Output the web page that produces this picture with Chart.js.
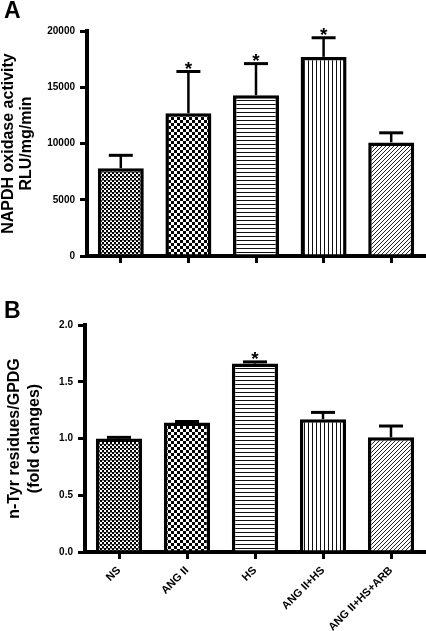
<!DOCTYPE html>
<html>
<head>
<meta charset="utf-8">
<script src="https://cdn.jsdelivr.net/npm/chart.js@4/dist/chart.umd.min.js"></script>
<style>
  body { margin: 0; background: #fff; width: 426px; height: 631px; position: relative; overflow: hidden; font-family: 'Liberation Sans', Arial, sans-serif; }
  .panel { position: absolute; left: 0; width: 426px; }
  .letter { position: absolute; left: 4px; font-size: 23px; font-weight: bold; color: #000; z-index: 2; }
</style>
</head>
<body>
<div class="letter" style="top:-3px;">A</div>
<div class="panel" style="top:0; height:300px;"><canvas id="chartA" width="426" height="300"></canvas></div>
<div class="letter" style="top:297px;">B</div>
<div class="panel" style="top:300px; height:331px;"><canvas id="chartB" width="426" height="331"></canvas></div>
<script>
// groups
const categories = ['NS', 'ANG II', 'HS', 'ANG II+HS', 'ANG II+HS+ARB'];

// panel A: NADPH oxidase activity (RLU/mg/min)
const nadphMean = [7800, 12700, 14300, 17700, 10100];
const nadphSem = [1150, 3700, 2800, 1700, 850];
const nadphStar = [false, true, true, true, false];
const nadphTicks = [0, 5000, 10000, 15000, 20000];

// panel B: n-Tyr residues/GPDG (fold changes)
const tyrMean = [1.0, 1.14, 1.66, 1.17, 1.01];
const tyrSem = [0.01, 0.01, 0.015, 0.06, 0.10];
const tyrStar = [false, false, true, false, false];
const tyrTicks = ['0.0', '0.5', '1.0', '1.5', '2.0'];

const FONT = "'Liberation Sans', Arial, sans-serif";

function makePattern(size, draw) {
  const c = document.createElement('canvas');
  c.width = size; c.height = size;
  const g = c.getContext('2d');
  g.fillStyle = '#fff';
  g.fillRect(0, 0, size, size);
  draw(g, size);
  return g.createPattern(c, 'repeat');
}

const patterns = [
  makePattern(4, (g) => { g.fillStyle = '#000'; g.fillRect(0, 0, 2, 2); g.fillRect(2, 2, 2, 2); g.fillStyle = '#888'; g.fillRect(2, 0, 2, 1); }),
  makePattern(6, (g) => { g.fillStyle = '#000'; g.fillRect(0, 0, 3, 3); g.fillRect(3, 3, 3, 3); }),
  makePattern(4, (g) => { g.fillStyle = '#111'; g.fillRect(0, 0, 4, 1); }),
  makePattern(4, (g) => { g.fillStyle = '#111'; g.fillRect(0, 0, 1, 4); }),
  makePattern(4, (g, s) => { g.fillStyle = '#222'; for (let i = 0; i < s; i++) g.fillRect(i, s - 1 - i, 1, 1); })
];

// error bars (upper only) + significance stars
const errorBars = {
  id: 'errorBars',
  afterDatasetsDraw(chart, args, opts) {
    const ctx = chart.ctx;
    const meta = chart.getDatasetMeta(0);
    const y = chart.scales.y;
    ctx.save();
    ctx.strokeStyle = '#000';
    meta.data.forEach((bar, i) => {
      const top = y.getPixelForValue(opts.mean[i] + opts.sem[i]);
      ctx.lineWidth = 2.5;
      ctx.beginPath();
      ctx.moveTo(bar.x, bar.y);
      ctx.lineTo(bar.x, top);
      ctx.stroke();
      ctx.lineWidth = 3;
      ctx.beginPath();
      ctx.moveTo(bar.x - 12, top);
      ctx.lineTo(bar.x + 12, top);
      ctx.stroke();
      if (opts.star[i]) {
        ctx.fillStyle = '#000';
        ctx.font = 'bold 19px ' + FONT;
        ctx.textAlign = 'center';
        ctx.textBaseline = 'alphabetic';
        ctx.fillText('*', bar.x, top + 3);
      }
    });
    ctx.restore();
  }
};

function makeChart(canvasId, opt) {
  return new Chart(document.getElementById(canvasId), {
    type: 'bar',
    data: {
      labels: categories,
      datasets: [{
        data: opt.mean,
        backgroundColor: patterns,
        borderColor: '#000',
        borderWidth: 3.5,
        borderSkipped: 'start',
        barPercentage: 0.68,
        categoryPercentage: 1
      }]
    },
    plugins: [errorBars],
    options: {
      responsive: false,
      animation: false,
      layout: { padding: { top: opt.top, right: 1, left: 0, bottom: 0 } },
      plugins: {
        legend: { display: false },
        tooltip: { enabled: false },
        errorBars: { mean: opt.mean, sem: opt.sem, star: opt.star }
      },
      scales: {
        x: {
          afterFit(scale) { scale.height = opt.xHeight; },
          grid: { display: true, drawOnChartArea: false, drawTicks: true, tickLength: 7, offset: false, color: '#000', lineWidth: 3 },
          border: { display: true, color: '#000', width: 4 },
          ticks: {
            display: opt.showX,
            color: '#000',
            font: { family: FONT, size: 11, weight: 'bold' },
            maxRotation: 45,
            minRotation: 45,
            padding: 5
          }
        },
        y: {
          min: 0,
          max: opt.max,
          afterFit(scale) { scale.width = opt.left; },
          afterBuildTicks(scale) { scale.ticks = opt.ticks.map(v => ({ value: Number(v) })); },
          grid: { display: true, drawOnChartArea: false, drawTicks: true, tickLength: 7, color: '#000', lineWidth: 3 },
          border: { display: true, color: '#000', width: 4 },
          ticks: {
            color: '#000',
            font: { family: FONT, size: 10, weight: 'bold' },
            padding: 5,
            callback: (v, i) => String(opt.ticks[i])
          },
          title: {
            display: true,
            text: opt.title,
            color: '#000',
            font: { family: FONT, size: 16, weight: 'bold', lineHeight: opt.titleLH },
            padding: { top: opt.titlePad, bottom: 0 }
          }
        }
      }
    }
  });
}

makeChart('chartA', {
  mean: nadphMean, sem: nadphSem, star: nadphStar, ticks: nadphTicks, max: 20000,
  title: ['NAPDH oxidase activity', 'RLU/mg/min'], titleLH: 1.1, titlePad: 0,
  top: 31, left: 87, xHeight: 44, showX: false
});

makeChart('chartB', {
  mean: tyrMean, sem: tyrSem, star: tyrStar, ticks: tyrTicks, max: 2.0,
  title: ['n-Tyr residues/GPDG', '(fold changes)'], titleLH: 1.25, titlePad: 5,
  top: 25, left: 85, xHeight: 79, showX: true
});
</script>
</body>
</html>
